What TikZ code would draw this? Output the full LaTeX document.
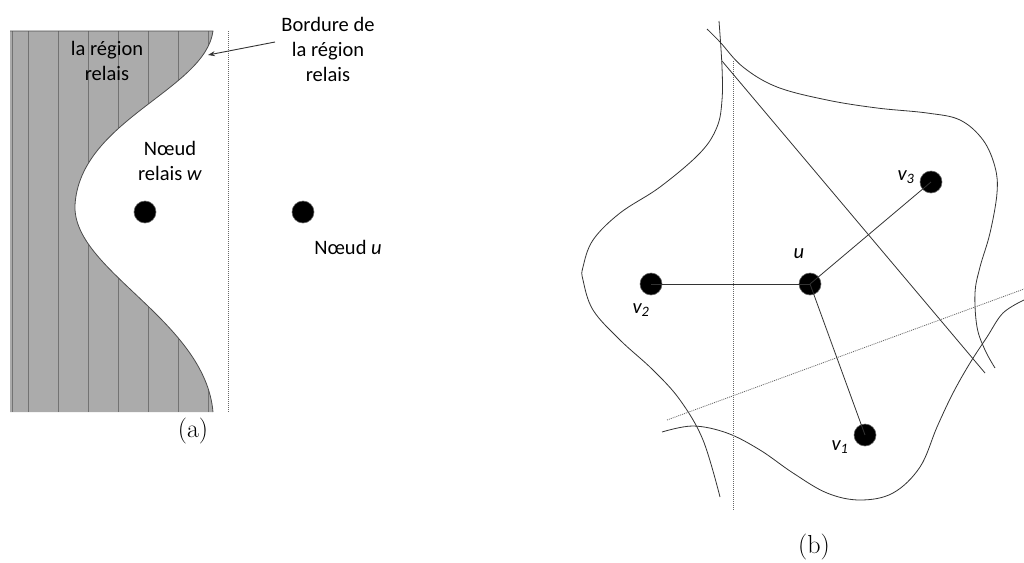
\documentclass[tikz,border=0pt]{standalone}
\usepackage{fontspec}
\newfontfamily\carl{Carlito}
\usetikzlibrary{arrows.meta}
\tikzset{
  lbl/.style={font=\carl\fontsize{20.5}{25}\selectfont, align=center, inner sep=0pt},
  captext/.style={font=\fontsize{26}{30}\selectfont, inner sep=0pt},
  dotnode/.style={circle, fill=black, minimum size=22pt, inner sep=0pt, draw=black!60, line width=0.6pt},
  thin line/.style={draw=black!80, line width=0.8pt},
  dotline/.style={draw=black!60, line width=0.8pt, dash pattern=on 1pt off 1pt},
}
\begin{document}
\begin{tikzpicture}[x=1pt,y=-1pt]
\useasboundingbox (0,0) rectangle (1024,562);
% ---------- (a) ----------
\path[fill=black!33] (10,31) -- (213,31) .. controls (205,90) and (80,120) .. (75,205)
  .. controls (72,270) and (205,320) .. (213,412) -- (10,412) -- cycle;
\begin{scope}
\clip (10,31) -- (213,31) .. controls (205,90) and (80,120) .. (75,205)
  .. controls (72,270) and (205,320) .. (213,412) -- (10,412) -- cycle;
\foreach \xx in {12,28,58,88,118,148,178,208} {
  \draw[black!55, line width=0.8pt] (\xx,31) -- (\xx,412);
}
\end{scope}
\draw[black!70, line width=0.8pt] (10,31) -- (213,31) .. controls (205,90) and (80,120) .. (75,205)
  .. controls (72,270) and (205,320) .. (213,412);
\draw[dotline] (228,31) -- (228,412);
\node[lbl] (reg) at (107,61) {la région\\relais};
\node[lbl] (bord) at (328,49) {Bordure de\\la région\\relais};
\coordinate (btip) at (208,55);
\coordinate (bstart) at (275,42);
\draw[black!80, line width=0.9pt, -{Stealth[length=7pt,width=5pt]}] (bstart) -- (btip);
\node[lbl] (wlbl) at (170,161) {Nœud\\relais \textit{w}};
\node[dotnode] (w) at (145,212) {};
\node[dotnode] (ua) at (303,212) {};
\node[lbl] (ulbl) at (348,247) {Nœud \textit{u}};
\node[captext] (capa) at (193,431) {(a)};
% ---------- (b) ----------
\draw[thin line] plot[smooth, tension=0.6] coordinates {(719,21) (722,67) (722,100) (717,127) (700,153) (660,187) (620,213) (593,240) (583,267) (583,280) (593,310) (620,340) (653,370) (680,400) (703,440) (720,497)};
\draw[thin line] plot[smooth, tension=0.6] coordinates {(707,29) (720,42) (743,67) (777,87) (827,100) (877,108) (927,113) (960,120) (983,140) (995,167) (997,193) (990,233) (980,267) (975,293) (977,327) (985,350) (995,368)};
\draw[thin line] plot[smooth, tension=0.6] coordinates {(1024,300) (1003,313) (987,337) (970,363) (953,393) (937,427) (920,467) (893,493) (860,500) (827,493) (793,473) (760,450) (727,433) (693,426) (662,432)};
\coordinate (s1) at (722,61);
\coordinate (s2) at (985,373);
\draw[thin line] (s1) -- (s2);
\coordinate (d1) at (667,420);
\coordinate (d2) at (1024,289);
\draw[dotline] (d1) -- (d2);
\coordinate (e1) at (733,61);
\coordinate (e2) at (733,510);
\draw[dotline] (e1) -- (e2);
\node[dotnode] (u) at (810,284) {};
\node[dotnode] (v1) at (865,435) {};
\node[dotnode] (v2) at (651,284) {};
\node[dotnode] (v3) at (931,182) {};
\draw[thin line] (u.center) -- (v1.center);
\draw[thin line] (u.center) -- (v2.center);
\draw[thin line] (u.center) -- (v3.center);
\node[lbl] (lu) at (799,254) {\textit{u}};
\node[lbl] (l1) at (840,447) {\textit{v\textsubscript{1}}};
\node[lbl] (l2) at (641,310) {\textit{v\textsubscript{2}}};
\node[lbl] (l3) at (906,177) {\textit{v\textsubscript{3}}};
\node[captext] (capb) at (814,547) {(b)};
\end{tikzpicture}
\end{document}
